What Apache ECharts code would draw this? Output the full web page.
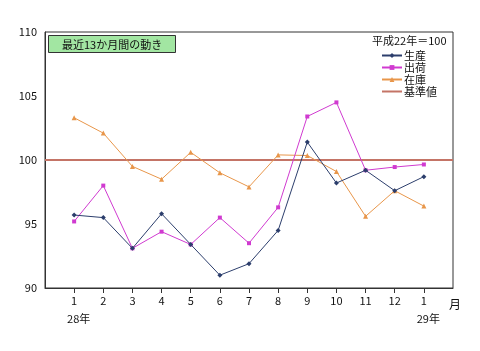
<!DOCTYPE html>
<html>
<head>
<meta charset="utf-8">
<title>最近13か月間の動き</title>
<script src="https://cdn.jsdelivr.net/npm/echarts@6/dist/echarts.min.js"></script>
<style>
    html, body { margin: 0; padding: 0; background: #fff; }
    #main { width: 480px; height: 351px; }
</style>
</head>
<body>
<div id="main"></div>
<script>
    // カテゴリ（先頭と末尾は余白用）
    var months = ['', '1', '2', '3', '4', '5', '6', '7', '8', '9', '10', '11', '12', '1', '月'];
    var years = { 1: '28年', 13: '29年' };

    // 指数（平成22年＝100）
    var production = [95.7, 95.5, 93.1, 95.8, 93.4, 91.0, 91.9, 94.5, 101.4, 98.2, 99.2, 97.6, 98.7];
    var shipment   = [95.2, 98.0, 93.1, 94.4, 93.4, 95.5, 93.5, 96.3, 103.4, 104.5, 99.2, 99.45, 99.65];
    var inventory  = [103.3, 102.1, 99.5, 98.5, 100.6, 99.0, 97.9, 100.4, 100.35, 99.1, 95.6, 97.6, 96.4];
    var baseline   = [100, 100, 100, 100, 100, 100, 100, 100, 100, 100, 100, 100, 100, 100, 100];

    function pad(arr) {
        return [null].concat(arr).concat([null]);
    }

    var fontJP = '"Noto Sans CJK JP", "Noto Sans", sans-serif';

    var myChart = echarts.init(document.getElementById('main'));

    var option = {
        animation: false,
        textStyle: { fontFamily: fontJP },
        title: [
            {
                text: '最近13か月間の動き',
                left: 48,
                top: 35,
                padding: [4, 14, 3, 14],
                backgroundColor: '#a2e6a2',
                borderColor: '#333',
                borderWidth: 1,
                textStyle: { fontSize: 11, fontWeight: 'normal', color: '#111', fontFamily: fontJP }
            },
            {
                text: '平成22年＝100',
                left: 372,
                top: 35,
                padding: 0,
                textStyle: { fontSize: 11, fontWeight: 'normal', color: '#111', fontFamily: fontJP }
            }
        ],
        legend: {
            orient: 'vertical',
            left: 381,
            top: 50,
            itemWidth: 20,
            itemHeight: 6,
            itemGap: 1,
            padding: 0,
            textStyle: { fontSize: 11, color: '#111', fontFamily: fontJP, padding: [0, 0, 0, -3] },
            data: ['生産', '出荷', '在庫', { name: '基準値', itemStyle: { opacity: 0 } }]
        },
        grid: {
            left: 45,
            right: 27,
            top: 32,
            bottom: 63,
            show: true,
            borderColor: '#333',
            borderWidth: 1
        },
        xAxis: {
            type: 'category',
            boundaryGap: false,
            data: months,
            axisLine: { lineStyle: { color: '#333' } },
            axisTick: {
                interval: function (i) { return i > 0 && i < 14; },
                length: 5,
                lineStyle: { color: '#333' }
            },
            axisLabel: {
                interval: 0,
                fontSize: 11,
                color: '#111',
                margin: 4,
                lineHeight: 18,
                verticalAlign: 'top',
                formatter: function (v, i) {
                    if (i === 14) return '{m|' + v + '}';
                    return years[i] ? v + '\n{y|' + years[i] + '}' : v;
                },
                rich: {
                    m: { fontSize: 12, padding: [7, 0, 0, 4], color: '#111' },
                    y: { fontSize: 11, padding: [0, 0, 0, 9], color: '#111' }
                }
            },
            splitLine: { show: false }
        },
        yAxis: {
            type: 'value',
            min: 90,
            max: 110,
            interval: 5,
            axisLine: { show: true, lineStyle: { color: '#333' } },
            axisTick: { show: false },
            axisLabel: { fontSize: 11, color: '#111', margin: 8 },
            splitLine: { show: false }
        },
        series: [
            {
                name: '生産',
                type: 'line',
                data: pad(production),
                symbol: 'diamond',
                symbolSize: 5,
                color: '#2c3e6c',
                lineStyle: { width: 1, color: '#2c3e6c' },
                z: 4
            },
            {
                name: '出荷',
                type: 'line',
                data: pad(shipment),
                symbol: 'rect',
                symbolSize: 4,
                color: '#d03ad0',
                lineStyle: { width: 1, color: '#d03ad0' },
                z: 3
            },
            {
                name: '在庫',
                type: 'line',
                data: pad(inventory),
                symbol: 'triangle',
                symbolSize: 5,
                color: '#e8964a',
                lineStyle: { width: 1, color: '#e8964a' },
                z: 2
            },
            {
                name: '基準値',
                type: 'line',
                data: baseline,
                symbol: 'none',
                color: '#c47466',
                lineStyle: { width: 2, color: '#c47466' },
                z: 1
            }
        ]
    };

    myChart.setOption(option);
</script>
</body>
</html>
